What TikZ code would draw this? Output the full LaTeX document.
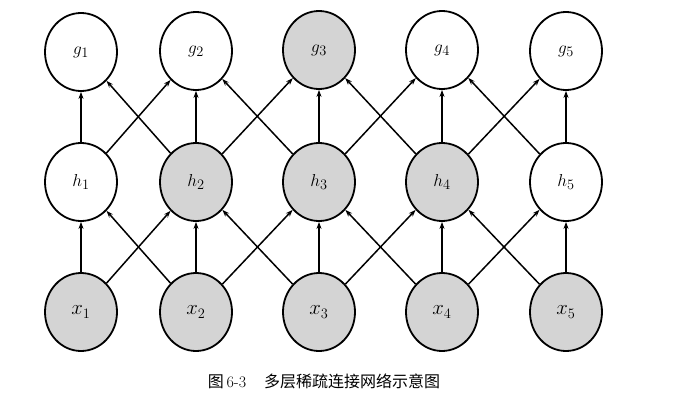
\documentclass[tikz,border=0pt]{standalone}
\usepackage{fontspec}
\newfontfamily\cjk{Noto Sans CJK SC}
\usetikzlibrary{arrows.meta,shapes.geometric}
\definecolor{nodegray}{RGB}{212,212,212}
\begin{document}
\begin{tikzpicture}[x=1pt,y=-1pt,
  unit/.style={ellipse,draw=black,line width=1.8pt,minimum width=72pt,minimum height=78pt,inner sep=0pt,font=\fontsize{19}{19}\selectfont},
  open/.style={unit,fill=white},
  shaded/.style={unit,fill=nodegray},
  xlab/.style={font=\fontsize{21}{21}\selectfont},
  link/.style={line width=1.5pt,-{Stealth[length=7pt,width=5pt]}}]
\useasboundingbox (0,0) rectangle (686,404);
% g row
\node[open]   (g1) at (81,52)  {$g_1$};
\node[open]   (g2) at (196,51) {$g_2$};
\node[shaded] (g3) at (319,50) {$g_3$};
\node[open]   (g4) at (442,50) {$g_4$};
\node[open]   (g5) at (566,51) {$g_5$};
% h row
\node[open]   (h1) at (81,182)  {$h_1$};
\node[shaded] (h2) at (196,182) {$h_2$};
\node[shaded] (h3) at (319,182) {$h_3$};
\node[shaded] (h4) at (442,182) {$h_4$};
\node[open]   (h5) at (566,182) {$h_5$};
% x row
\node[shaded,xlab] (x1) at (81,312)  {$x_1$};
\node[shaded,xlab] (x2) at (196,312) {$x_2$};
\node[shaded,xlab] (x3) at (319,312) {$x_3$};
\node[shaded,xlab] (x4) at (442,312) {$x_4$};
\node[shaded,xlab] (x5) at (566,312) {$x_5$};
% connections
\foreach \a/\b in {1/1,1/2,2/1,2/2,2/3,3/2,3/3,3/4,4/3,4/4,4/5,5/4,5/5}{
  \draw[link] (x\a) -- (h\b);
  \draw[link] (h\a) -- (g\b);
}
% caption
\node[font=\fontsize{16}{16}\selectfont] (cap) at (324,381)
  {{\cjk 图}\,6-3\hspace{18pt}{\cjk 多层稀疏连接网络示意图}};
\end{tikzpicture}
\end{document}
